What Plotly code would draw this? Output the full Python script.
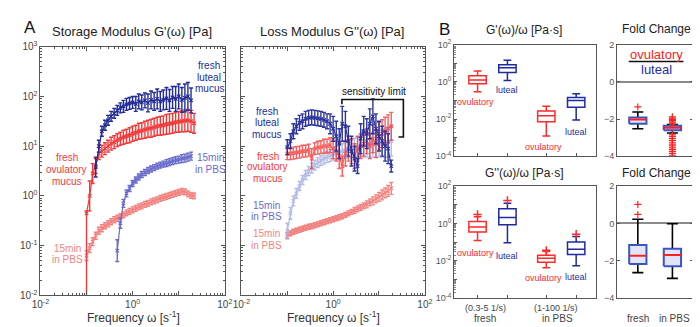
import plotly.graph_objects as go

W, H = 700, 327
FONT = "Liberation Sans, Arial, sans-serif"

# ---------------- DATA ----------------
# angular frequency grid [rad/s]
freq = [0.100, 0.117, 0.136, 0.158, 0.185, 0.215, 0.251, 0.293, 0.341, 0.398,
        0.464, 0.541, 0.631, 0.736, 0.858, 1.00, 1.17, 1.36, 1.58, 1.85,
        2.15, 2.51, 2.93, 3.41, 3.98, 4.64, 5.41, 6.31, 7.36, 8.58,
        10.0, 11.7, 13.6, 15.8, 18.5, 21.5]

# Storage modulus G' (log10 Pa) and error half-widths (log10 units)
gp_luteal_fresh_start = 3
gp_luteal_fresh = [0.58, 1.0, 1.3, 1.42, 1.52, 1.6, 1.66, 1.72, 1.77, 1.8, 1.84, 1.86, 1.88, 1.85,
                   1.9, 1.88, 1.92, 1.87, 1.93, 1.9, 1.95, 1.9, 1.93, 1.96, 1.92, 1.98, 1.95, 2.0,
                   1.93, 1.97, 2.0, 1.92]
gp_luteal_fresh_err = [0.2, 0.12, 0.1, 0.1, 0.1, 0.1, 0.1, 0.1, 0.1, 0.12, 0.12, 0.12, 0.12, 0.15,
                       0.15, 0.15, 0.15, 0.18, 0.18, 0.18, 0.2, 0.2, 0.2, 0.22, 0.22, 0.22, 0.25, 0.25,
                       0.25, 0.28, 0.28, 0.25]

gp_ovul_fresh_start = 0
gp_ovul_fresh = [-0.35, 0.0, 0.45, 0.6, 0.85, 0.9, 0.95, 1.0, 1.05, 1.08, 1.12, 1.15, 1.18, 1.2,
                 1.22, 1.25, 1.27, 1.3, 1.31, 1.33, 1.35, 1.36, 1.38, 1.4, 1.41, 1.42, 1.44, 1.45,
                 1.46, 1.48, 1.49, 1.5, 1.51, 1.52, 1.5, 1.46]
gp_ovul_fresh_err = [0.05, 0.3, 0.2, 0.15, 0.12, 0.12, 0.12, 0.12, 0.13, 0.13, 0.13, 0.13, 0.14, 0.14,
                     0.15, 0.15, 0.15, 0.16, 0.16, 0.17, 0.17, 0.18, 0.18, 0.18, 0.19, 0.19, 0.2, 0.2,
                     0.2, 0.2, 0.21, 0.21, 0.22, 0.22, 0.22, 0.2]
# lower error of the first point reaches below zero (drawn to the axis floor)
gp_ovul_fresh_err_minus = [4.0, 0.3, 0.2, 0.15, 0.12, 0.12, 0.12, 0.12, 0.13, 0.13, 0.13, 0.13, 0.14,
                           0.14, 0.15, 0.15, 0.15, 0.16, 0.16, 0.17, 0.17, 0.18, 0.18, 0.18, 0.19,
                           0.19, 0.2, 0.2, 0.2, 0.2, 0.21, 0.21, 0.22, 0.22, 0.22, 0.2]

gp_luteal_pbs_start = 10
gp_luteal_pbs = [-1.1, -0.55, -0.15, 0.05, 0.15, 0.25, 0.32, 0.38, 0.43, 0.47, 0.51, 0.54, 0.57,
                 0.6, 0.62, 0.64, 0.66, 0.68, 0.7, 0.72, 0.73, 0.75, 0.76, 0.78, 0.8]
gp_luteal_pbs_err = [0.22, 0.1, 0.08, 0.07, 0.06, 0.06, 0.06, 0.06, 0.06, 0.06, 0.06, 0.06, 0.06,
                     0.06, 0.06, 0.06, 0.07, 0.07, 0.07, 0.07, 0.07, 0.08, 0.08, 0.08, 0.08]

gp_ovul_pbs_start = 0
gp_ovul_pbs = [-1.2, -1.05, -0.92, -0.8, -0.7, -0.65, -0.6, -0.56, -0.52, -0.48, -0.45, -0.42,
               -0.38, -0.34, -0.31, -0.28, -0.25, -0.22, -0.2, -0.17, -0.15, -0.12, -0.1, -0.08,
               -0.05, -0.03, -0.01, 0.01, 0.03, 0.05, 0.07, 0.09, 0.08, 0.04, 0.01, 0.0]
gp_ovul_pbs_err = [0.1, 0.09, 0.08, 0.07, 0.07, 0.07, 0.06, 0.06, 0.06, 0.06, 0.06, 0.06,
                   0.06, 0.06, 0.06, 0.06, 0.06, 0.06, 0.06, 0.06, 0.06, 0.06, 0.06, 0.06,
                   0.06, 0.06, 0.06, 0.06, 0.06, 0.06, 0.06, 0.06, 0.06, 0.06, 0.06, 0.06]

# Loss modulus G'' (log10 Pa)
gpp_luteal_fresh_start = 0
gpp_luteal_fresh = [0.98, 1.1, 1.3, 1.4, 1.47, 1.5, 1.55, 1.57, 1.58, 1.57, 1.56, 1.55, 1.53, 1.5,
                    1.45, 1.35, 1.2, 1.05, 1.45, 1.4, 1.1, 0.9, 0.75, 0.6, 1.15, 1.3, 1.25, 1.45,
                    1.6, 1.35, 1.2, 1.1, 1.0, 0.95, 0.6]
gpp_luteal_fresh_err = [0.15, 0.15, 0.15, 0.15, 0.15, 0.15, 0.15, 0.15, 0.15, 0.15, 0.15, 0.15,
                        0.15, 0.15, 0.2, 0.25, 0.3, 0.3, 0.35, 0.3, 0.3, 0.3, 0.25, 0.15, 0.3,
                        0.3, 0.3, 0.3, 0.35, 0.3, 0.3, 0.3, 0.3, 0.3, 0.12]

gpp_ovul_fresh_start = 0
gpp_ovul_fresh = [0.85, 0.85, 0.86, 0.87, 0.88, 0.9, 0.9, 0.92, 0.75, 0.95, 0.97, 0.98, 1.0, 1.0,
                  1.02, 0.95, 0.9, 0.8, 0.6, 0.85, 0.95, 0.9, 0.8, 0.95, 1.0, 1.05, 1.1, 1.0,
                  1.15, 1.05, 1.2, 1.25, 1.3, 1.35, 1.4]
gpp_ovul_fresh_err = [0.12, 0.12, 0.12, 0.12, 0.12, 0.12, 0.12, 0.12, 0.2, 0.12, 0.13, 0.13, 0.14,
                      0.14, 0.15, 0.2, 0.2, 0.25, 0.2, 0.25, 0.25, 0.25, 0.25, 0.25, 0.25, 0.25,
                      0.25, 0.25, 0.28, 0.28, 0.28, 0.28, 0.28, 0.28, 0.28]

gpp_luteal_pbs_start = 0
gpp_luteal_pbs = [-0.7, -0.35, -0.1, 0.05, 0.2, 0.32, 0.42, 0.5, 0.56, 0.62, 0.67, 0.71, 0.75,
                  0.78, 0.81, 0.84, 0.86, 0.88, 0.9, 0.92, 0.94, 0.95, 0.97, 0.98, 0.99, 1.0,
                  1.01, 1.02, 1.03, 1.04, 1.05, 1.06, 1.07, 1.08, 1.1]
gpp_luteal_pbs_err = [0.15, 0.12, 0.1, 0.1, 0.09, 0.09, 0.09, 0.09, 0.1, 0.1, 0.1, 0.1, 0.11,
                      0.11, 0.12, 0.12, 0.13, 0.14, 0.15, 0.16, 0.17, 0.18, 0.19, 0.2, 0.21, 0.22,
                      0.23, 0.24, 0.25, 0.26, 0.27, 0.28, 0.29, 0.3, 0.3]

gpp_ovul_pbs_start = 0
gpp_ovul_pbs = [-0.8, -0.75, -0.72, -0.7, -0.68, -0.66, -0.64, -0.62, -0.61, -0.59, -0.57, -0.55,
                -0.53, -0.51, -0.49, -0.47, -0.45, -0.43, -0.41, -0.38, -0.35, -0.32, -0.29,
                -0.26, -0.23, -0.2, -0.17, -0.13, -0.1, -0.06, -0.02, 0.02, 0.06, 0.1, 0.15]
gpp_ovul_pbs_err = [0.06, 0.05, 0.05, 0.05, 0.05, 0.05, 0.05, 0.05, 0.05, 0.05, 0.05, 0.05,
                    0.05, 0.05, 0.05, 0.05, 0.05, 0.05, 0.05, 0.05, 0.05, 0.05, 0.06, 0.06,
                    0.06, 0.06, 0.07, 0.07, 0.08, 0.08, 0.09, 0.1, 0.1, 0.11, 0.12]

# Panel B box statistics, log10 [Pa*s]: lowerfence, q1, median, q3, upperfence
b_groups = ["ovulatory", "luteal", "ovulatory", "luteal"]
g1w_stats = [[-0.53, -0.1, 0.1, 0.33, 0.59],
             [0.07, 0.5, 0.76, 0.93, 1.16],
             [-2.91, -2.14, -1.83, -1.57, -1.31],
             [-2.05, -1.36, -1.0, -0.84, -0.64]]
g2w_stats = [[-0.92, -0.46, -0.2, 0.1, 0.36],
             [-1.04, -0.07, 0.32, 0.78, 1.08],
             [-2.37, -2.07, -1.86, -1.7, -1.5],
             [-2.26, -1.66, -1.38, -1.0, -0.7]]
g2w_outliers = [[0.48], [1.22], [-1.44], [-0.58]]

# Fold change (log10 ovulatory/luteal)
fc_groups = ["fresh", "in PBS"]
fc1_stats = [[-2.52, -2.26, -2.03, -1.92, -1.62],
             [-2.75, -2.6, -2.47, -2.36, -2.3]]
fc1_outliers = [[-1.35],
                [-1.88, -1.95, -2.02, -2.08, -2.15, -2.22, -2.28,
                 -2.85, -2.95, -3.05, -3.15, -3.25, -3.35, -3.45, -3.55, -3.65, -3.75, -3.85, -3.95]]
fc2_stats = [[-2.63, -2.17, -1.73, -1.15, 0.22],
             [-2.94, -2.29, -1.69, -1.35, -0.02]]
fc2_outliers = [[1.01, 0.48], []]

# ---------------- STYLE ----------------
DBLUE = "#232c98"
RED = "#f23a3a"
LBLUE = "#6a6ccc"
LRED = "#f28380"
LBLUE2 = "#a8b1e2"
BRED = "#ff2a2a"
BBLUE = "#1e2a9e"
AX = "#555555"

def pap(px, py):
    return px / W, 1 - py / H

fig = go.Figure()

def err_trace(ax, start, logs, errs, color, opacity=1.0, errs_minus=None):
    if errs_minus is None:
        errs_minus = errs
    x = freq[start:start + len(logs)]
    y = [10 ** v for v in logs]
    up = [10 ** (v + e) - 10 ** v for v, e in zip(logs, errs)]
    dn = [10 ** v - 10 ** (v - e) for v, e in zip(logs, errs_minus)]
    fig.add_trace(go.Scatter(
        x=x, y=y, xaxis="x" + ax, yaxis="y" + ax, mode="lines+markers",
        line=dict(color=color, width=1.2),
        marker=dict(color=color, size=3.5, symbol="x-thin", line=dict(width=1.2, color=color)),
        error_y=dict(type="data", symmetric=False, array=up, arrayminus=dn,
                     color=color, thickness=1.4, width=2),
        opacity=opacity, showlegend=False, hoverinfo="skip"))

# Panel A1 (G')
err_trace("", gp_ovul_pbs_start, gp_ovul_pbs, gp_ovul_pbs_err, LRED)
err_trace("", gp_luteal_pbs_start, gp_luteal_pbs, gp_luteal_pbs_err, LBLUE)
err_trace("", gp_ovul_fresh_start, gp_ovul_fresh, gp_ovul_fresh_err, RED,
          errs_minus=gp_ovul_fresh_err_minus)
err_trace("", gp_luteal_fresh_start, gp_luteal_fresh, gp_luteal_fresh_err, DBLUE)
# Panel A2 (G'')
err_trace("2", gpp_ovul_pbs_start, gpp_ovul_pbs, gpp_ovul_pbs_err, LRED)
err_trace("2", gpp_luteal_pbs_start, gpp_luteal_pbs, gpp_luteal_pbs_err, LBLUE2, 0.85)
err_trace("2", gpp_ovul_fresh_start, gpp_ovul_fresh, gpp_ovul_fresh_err, RED, 0.8)
err_trace("2", gpp_luteal_fresh_start, gpp_luteal_fresh, gpp_luteal_fresh_err, DBLUE, 0.95)

# Panel B boxes
b_pos = [1, 2, 3.3, 4.3]
b_col = [BRED, BBLUE, BRED, BBLUE]

def log_box(ax, pos, stats, color):
    lf, q1, med, q3, uf = [10 ** v for v in stats]
    fig.add_trace(go.Box(x=[pos], q1=[q1], median=[med], q3=[q3], lowerfence=[lf], upperfence=[uf],
                         xaxis="x" + ax, yaxis="y" + ax, line=dict(color=color, width=1.5),
                         fillcolor="rgba(255,255,255,0)", width=0.58, whiskerwidth=0.45,
                         boxpoints=False, showlegend=False, hoverinfo="skip"))

for p, s, c in zip(b_pos, g1w_stats, b_col):
    log_box("3", p, s, c)
for p, s, c, o in zip(b_pos, g2w_stats, b_col, g2w_outliers):
    log_box("5", p, s, c)
    if o:
        fig.add_trace(go.Scatter(x=[p] * len(o), y=[10 ** v for v in o], xaxis="x5", yaxis="y5",
                                 mode="markers", marker=dict(symbol="cross-thin", size=6, color=BRED,
                                                             line=dict(width=1.5, color=BRED)),
                                 showlegend=False, hoverinfo="skip"))

# Fold change boxes (MATLAB style: blue box, red median, black whiskers)
fc_pos = [1, 2]

def fc_box(ax, pos, stats, outliers, hw=0.25, cap=0.16):
    lf, q1, med, q3, uf = stats
    fig.add_trace(go.Scatter(
        x=[pos, pos, None, pos, pos, None, pos - cap, pos + cap, None, pos - cap, pos + cap],
        y=[lf, q1, None, q3, uf, None, lf, lf, None, uf, uf],
        xaxis="x" + ax, yaxis="y" + ax, mode="lines", line=dict(color="black", width=1.6),
        showlegend=False, hoverinfo="skip"))
    fig.add_trace(go.Scatter(
        x=[pos - hw, pos + hw, pos + hw, pos - hw, pos - hw], y=[q1, q1, q3, q3, q1],
        xaxis="x" + ax, yaxis="y" + ax, mode="lines", fill="toself",
        fillcolor="rgba(90,110,210,0.18)", line=dict(color="#3a55c0", width=2),
        showlegend=False, hoverinfo="skip"))
    fig.add_trace(go.Scatter(
        x=[pos - hw, pos + hw], y=[med, med], xaxis="x" + ax, yaxis="y" + ax, mode="lines",
        line=dict(color="#ff2020", width=2), showlegend=False, hoverinfo="skip"))
    if outliers:
        fig.add_trace(go.Scatter(x=[pos] * len(outliers), y=outliers, xaxis="x" + ax, yaxis="y" + ax,
                                 mode="markers", marker=dict(symbol="cross-thin", size=5, color="#ff2020",
                                                             line=dict(width=1.2, color="#ff2020")),
                                 showlegend=False, hoverinfo="skip"))

for p, s, o in zip(fc_pos, fc1_stats, fc1_outliers):
    fc_box("4", p, s, o)
for p, s, o in zip(fc_pos, fc2_stats, fc2_outliers):
    fc_box("6", p, s, o)

# ---------------- AXES ----------------
def dom_x(a, b):
    return [a / W, b / W]

def dom_y(top, bot):
    return [1 - bot / H, 1 - top / H]

def sup(e):
    return "10<sup>%d</sup>" % e

minor_log_A = [m * 10 ** d for d in range(-2, 3) for m in range(2, 10)]
minor_log_B = [m * 10 ** d for d in range(-4, 2) for m in range(2, 10)]
tickfont = dict(family=FONT, size=10, color="#444")

common = dict(showline=True, linecolor=AX, linewidth=1, mirror="allticks", ticks="inside",
              tickcolor=AX, ticklen=4, showgrid=False, zeroline=False, tickfont=tickfont)

xA_vals = [10.0 ** e for e in range(-2, 3)]
xA_text = [sup(-2), "", sup(0), "", sup(2)]
yA_vals = [10.0 ** e for e in range(-2, 4)]
yA_text = [sup(e) for e in range(-2, 4)]

layout_axes = {}
layout_axes["xaxis"] = dict(common, domain=dom_x(24, 213), type="log", range=[-2, 2],
                            tickmode="array", tickvals=xA_vals, ticktext=xA_text, anchor="y",
                            minor=dict(tickmode="array", tickvals=minor_log_A, ticks="inside",
                                       ticklen=2, tickcolor=AX))
layout_axes["yaxis"] = dict(common, domain=dom_y(33, 292), type="log", range=[-2, 3],
                            tickmode="array", tickvals=yA_vals, ticktext=yA_text, anchor="x",
                            minor=dict(tickmode="array", tickvals=minor_log_A, ticks="inside",
                                       ticklen=2, tickcolor=AX))
layout_axes["xaxis2"] = dict(common, domain=dom_x(230, 418), type="log", range=[-2, 2],
                             tickmode="array", tickvals=xA_vals, ticktext=xA_text, anchor="y2",
                             minor=dict(tickmode="array", tickvals=minor_log_A, ticks="inside",
                                        ticklen=2, tickcolor=AX))
layout_axes["yaxis2"] = dict(common, domain=dom_y(33, 292), type="log", range=[-2, 3],
                             tickmode="array", tickvals=yA_vals, showticklabels=False, anchor="x2",
                             minor=dict(tickmode="array", tickvals=minor_log_A, ticks="inside",
                                        ticklen=2, tickcolor=AX))

yB_vals = [10.0 ** e for e in range(-4, 3)]
yB_text = [sup(-4), "", sup(-2), "", sup(0), "", sup(2)]
bfont = dict(family=FONT, size=9, color="#555")
for xa, ya, top, bot in (("xaxis3", "yaxis3", 31, 147), ("xaxis5", "yaxis5", 178, 295)):
    xn, yn = xa.replace("axis", ""), ya.replace("axis", "")
    layout_axes[xa] = dict(showline=True, linecolor=AX, linewidth=1, mirror=True, ticks="inside",
                           tickcolor=AX, ticklen=3, showgrid=False, zeroline=False,
                           domain=dom_x(448, 593), range=[0.216, 4.95], tickmode="array",
                           tickvals=b_pos, showticklabels=False, anchor=yn)
    layout_axes[ya] = dict(showline=True, linecolor=AX, linewidth=1, mirror=True, ticks="inside",
                           tickcolor=AX, ticklen=3, showgrid=False, zeroline=False,
                           domain=dom_y(top, bot), type="log", range=[-4, 2], tickmode="array",
                           tickvals=yB_vals, ticktext=yB_text, tickfont=bfont, anchor=xn,
                           minor=dict(tickmode="array", tickvals=minor_log_B, ticks="inside",
                                      ticklen=1.5, tickcolor="#888"))

for xa, ya, top, bot in (("xaxis4", "yaxis4", 31, 147), ("xaxis6", "yaxis6", 178, 295)):
    xn, yn = xa.replace("axis", ""), ya.replace("axis", "")
    layout_axes[xa] = dict(showline=True, linecolor=AX, linewidth=1, mirror=True, ticks="",
                           showgrid=False, zeroline=False, domain=dom_x(615, 693),
                           range=[0.4, 2.6], showticklabels=False, anchor=yn)
    layout_axes[ya] = dict(showline=True, linecolor=AX, linewidth=1, mirror="ticks", ticks="inside",
                           tickcolor=AX, ticklen=3, showgrid=False, zeroline=True,
                           zerolinecolor="#8a8a8a", zerolinewidth=1.5, domain=dom_y(top, bot),
                           range=[-4, 2], tickmode="array", tickvals=[-4, -2, 0, 2],
                           tickfont=bfont, anchor=xn)

# ---------------- ANNOTATIONS ----------------
anns = []

def txt(px, py, text, size=10, color="#222", xanchor="center"):
    x, y = pap(px, py)
    anns.append(dict(x=x, y=y, xref="paper", yref="paper", text=text, showarrow=False,
                     xanchor=xanchor, yanchor="middle",
                     font=dict(family=FONT, size=size, color=color)))

# panel letters and titles
txt(5, 13, "A", 17, "#111", "left")
txt(430, 15, "B", 17, "#111", "left")
txt(118, 17, "Storage Modulus G'(ω) [Pa]", 13)
txt(323, 17, "Loss Modulus G''(ω) [Pa]", 13)
txt(520, 16, "G'(ω)/ω [Pa·s]", 12)
txt(520, 165, "G''(ω)/ω [Pa·s]", 12)
txt(655, 15, "Fold Change", 12)
txt(655, 165, "Fold Change", 12)
txt(119, 315, "Frequency ω [s<sup>-1</sup>]", 12, "#333")
txt(324, 315, "Frequency ω [s<sup>-1</sup>]", 12, "#333")

# panel A1 series labels
for py, t in ((53, "fresh"), (65, "luteal"), (77, "mucus")):
    txt(197, py, t, 10, DBLUE)
for py, t in ((148, "fresh"), (161, "ovulatory"), (173, "mucus")):
    txt(51, py, t, 10, RED)
for py, t in ((148, "15min"), (161, "in PBS")):
    txt(198, py, t, 10, LBLUE)
for py, t in ((243, "15min"), (255, "in PBS")):
    txt(52, py, t, 10, LRED)

# panel A2 series labels
for py, t in ((100, "fresh"), (112, "luteal"), (124, "mucus")):
    txt(256, py, t, 10, DBLUE)
for py, t in ((147, "fresh"), (158, "ovulatory"), (170, "mucus")):
    txt(257, py, t, 10, RED)
for py, t in ((198, "15min"), (210, "in PBS")):
    txt(256, py, t, 10, LBLUE)
for py, t in ((228, "15min"), (240, "in PBS")):
    txt(256, py, t, 10, LRED)
txt(366, 80, "sensitivity limit", 10, "#111")

# panel B group labels
for (px, py), t, c in zip(((470, 91), (502, 78), (540, 137), (573, 122)), b_groups, b_col):
    txt(px, py, t, 9, c)
for (px, py), t, c in zip(((470, 248), (502, 251), (540, 274), (573, 273)), b_groups, b_col):
    txt(px, py, t, 9, c)
txt(480, 305, "(0.3-5 1/s)", 9, "#444")
txt(480, 316, "fresh", 10, "#444")
txt(552, 305, "(1-100 1/s)", 9, "#444")
txt(554, 316, "in PBS", 10, "#444")

# fold change labels
txt(655, 41, "ovulatory", 13, "#ff1a1a")
txt(655, 57, "luteal", 13, BBLUE)
txt(636, 316, "fresh", 10, "#444")
txt(674, 316, "in PBS", 10, "#444")

# ---------------- SHAPES ----------------
def pth(points):
    s = ""
    for i, (px, py) in enumerate(points):
        x, y = pap(px, py)
        s += ("M" if i == 0 else " L") + " %.5f,%.5f" % (x, y)
    return s

shapes = [
    dict(type="path", xref="paper", yref="paper",
         path=pth([(333, 93), (333, 88), (396, 88), (396, 127), (391, 127)]),
         line=dict(color="#111", width=1.6)),
    dict(type="line", xref="paper", yref="paper",
         x0=627 / W, x1=683 / W, y0=1 - 48.5 / H, y1=1 - 48.5 / H,
         line=dict(color="#111", width=1.5)),
]

fig.update_layout(
    width=W, height=H, margin=dict(l=0, r=0, t=0, b=0),
    paper_bgcolor="white", plot_bgcolor="white",
    font=dict(family=FONT), annotations=anns, shapes=shapes,
    boxmode="overlay", **layout_axes)

fig.write_html("out.html")
